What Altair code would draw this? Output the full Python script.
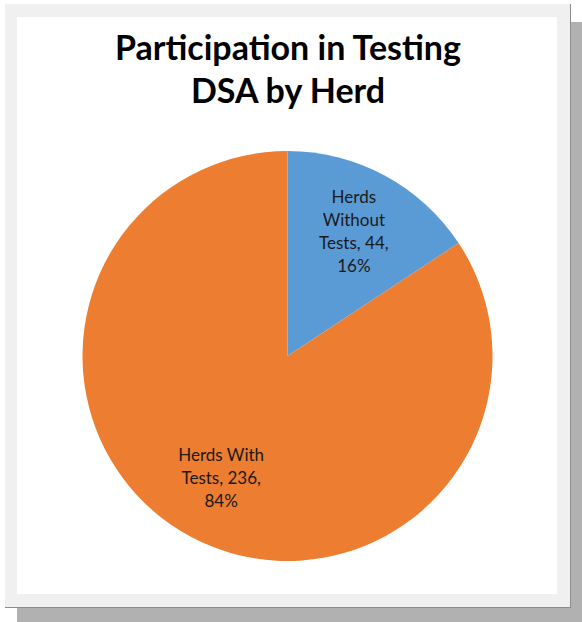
import altair as alt
import pandas as pd

# ---- data ----
categories = ["Herds Without Tests", "Herds With Tests"]
label_wraps = [["Herds", "Without", "Tests, {v},", "{p}%"], ["Herds With", "Tests, {v},", "{p}%"]]
values = [44, 236]
colors = ["#5B9BD5", "#ED7D31"]
title_lines = ["Participation in Testing", "DSA by Herd"]

total = sum(values)
labels = []
nlines = []
for wrap, v in zip(label_wraps, values):
    p = round(100 * v / total)
    labels.append("\n".join(s.format(v=v, p=p) for s in wrap))
    nlines.append(len(wrap))

df = pd.DataFrame({
    "category": categories,
    "value": values,
    "label": labels,
    "order": list(range(len(categories))),
})

W, H = 582, 622
CX, CY, R = 287.5, 356, 205
LH = 23

frame_src = pd.DataFrame({"k": [0]})

shadow = alt.Chart(frame_src).mark_rect(color="#b1b1b1").encode(
    x=alt.value(17), x2=alt.value(582), y=alt.value(22), y2=alt.value(622))
outer = alt.Chart(frame_src).mark_rect(color="#f0f0f0").encode(
    x=alt.value(5), x2=alt.value(571), y=alt.value(4), y2=alt.value(608))
edge_r = alt.Chart(frame_src).mark_rule(color="#8c8c8c", strokeWidth=1).encode(
    x=alt.value(570.5), y=alt.value(4), y2=alt.value(608))
edge_b = alt.Chart(frame_src).mark_rule(color="#8c8c8c", strokeWidth=1).encode(
    x=alt.value(5), x2=alt.value(571), y=alt.value(607.5))
inner = alt.Chart(frame_src).mark_rect(color="#ffffff").encode(
    x=alt.value(17), x2=alt.value(557), y=alt.value(17), y2=alt.value(594))

title_df = pd.DataFrame({"t": title_lines, "i": list(range(len(title_lines)))})
title = alt.Chart(title_df).mark_text(
    font="Lato", fontWeight="bold", fontSize=34, align="center", baseline="alphabetic", color="#000000"
).encode(
    text="t:N",
    x=alt.value(288),
    y=alt.Y("i:Q", scale=alt.Scale(domain=[0, 1], range=[60, 103]), axis=None),
)

color_scale = alt.Scale(domain=categories, range=colors)

pie = alt.Chart(df).mark_arc(radius=R, stroke=None).encode(
    theta=alt.Theta("value:Q", stack=True),
    color=alt.Color("category:N", scale=color_scale, legend=None),
    order=alt.Order("order:Q"),
    x=alt.value(CX),
    y=alt.value(CY),
)

text_layers = []
for cat, n in zip(categories, nlines):
    text_layers.append(
        alt.Chart(df).mark_text(
            radius=140, font="Lato", fontSize=17, lineBreak="\n", lineHeight=LH,
            align="center", baseline="middle", color="#1a1a1a", dy=-(n - 1) * LH / 2
        ).encode(
            theta=alt.Theta("value:Q", stack=True),
            text=alt.condition(alt.datum.category == cat, "label:N", alt.value("")),
            order=alt.Order("order:Q"),
            x=alt.value(CX),
            y=alt.value(CY),
        )
    )

chart = alt.layer(shadow, outer, edge_r, edge_b, inner, title, pie, *text_layers).properties(
    width=W, height=H, autosize=alt.AutoSizeParams(type="none"), padding=0,
    background="white",
).resolve_scale(y="independent").configure_view(stroke=None)

chart.save("out.html", embed_options={"renderer": "svg", "actions": False})
